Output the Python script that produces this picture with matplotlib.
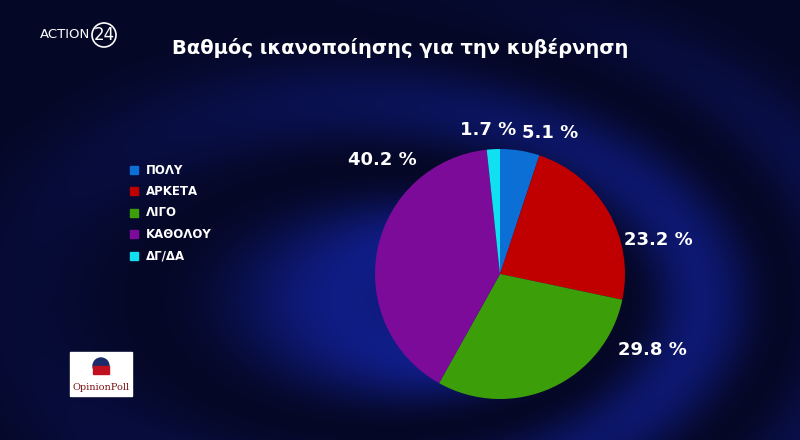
import numpy as np
import matplotlib
matplotlib.use("Agg")
import matplotlib.pyplot as plt
from matplotlib.patches import Rectangle, Circle

categories = ["ΠΟΛΥ", "ΑΡΚΕΤΑ", "ΛΙΓΟ", "ΚΑΘΟΛΟΥ", "ΔΓ/ΔΑ"]
values = [5.1, 23.2, 29.8, 40.2, 1.7]
colors = ["#0b6fd6", "#c00000", "#3c9f0a", "#7b0b98", "#10e0f0"]
label_pos = [(550, 133), (658, 240), (652, 350), (382, 160), (488, 130)]

W, H = 800, 440
fig = plt.figure(figsize=(8, 4.4), dpi=100)

# background
bg = fig.add_axes([0, 0, 1, 1])
yy, xx = np.mgrid[0:H, 0:W]
r = np.hypot((xx - 480) / 500, (yy - 300) / 300)
wave = 0.5 + 0.5 * np.sin(r * 14 + xx / 90.0)
base = np.clip(1.1 - r, 0, 1)
img = np.zeros((H, W, 3))
img[..., 0] = 0.02 + 0.05 * base * wave
img[..., 1] = 0.03 + 0.10 * base * wave
img[..., 2] = 0.15 + 0.45 * base * wave
bg.imshow(img, extent=[0, W, H, 0], aspect="auto")
bg.set_xlim(0, W); bg.set_ylim(H, 0); bg.axis("off")

# pie
ax = fig.add_axes([375 / W, 40 / H, 250 / W, 252 / H])
ax.pie(values, colors=colors, startangle=90, counterclock=False,
       wedgeprops=dict(linewidth=0))
ax.set_xlim(-1, 1); ax.set_ylim(-1, 1)
ax.set_aspect("equal")

for v, (x, y) in zip(values, label_pos):
    bg.text(x, y, f"{v:.1f} %", color="white", fontsize=13, fontweight="bold",
            ha="center", va="center")

bg.text(400, 48, "Βαθμός ικανοποίησης για την κυβέρνηση", color="white",
        fontsize=14, fontweight="bold", ha="center", va="center")
bg.text(40, 35, "ACTION", color="white", fontsize=9.5, ha="left", va="center")
bg.add_patch(Circle((104, 35), 12, fill=False, ec="white", lw=1.2))
bg.text(104, 35, "24", color="white", fontsize=12, ha="center", va="center")

# legend
for i, (c, col) in enumerate(zip(categories, colors)):
    y = 170 + i * 21.5
    bg.add_patch(Rectangle((130, y - 4), 8, 8, color=col))
    bg.text(146, y, c, color="white", fontsize=8.5, fontweight="bold",
            ha="left", va="center")

# OpinionPoll logo
bg.add_patch(Rectangle((70, 352), 62, 44, color="white"))
bg.add_patch(Circle((101, 366), 8, color="#1a2a6a"))
bg.add_patch(Rectangle((93, 366), 16, 8, color="#c01020"))
bg.text(101, 387, "OpinionPoll", color="#7a1010", fontsize=7, ha="center",
        va="center", family="DejaVu Serif")

fig.savefig("out.png", dpi=100)
